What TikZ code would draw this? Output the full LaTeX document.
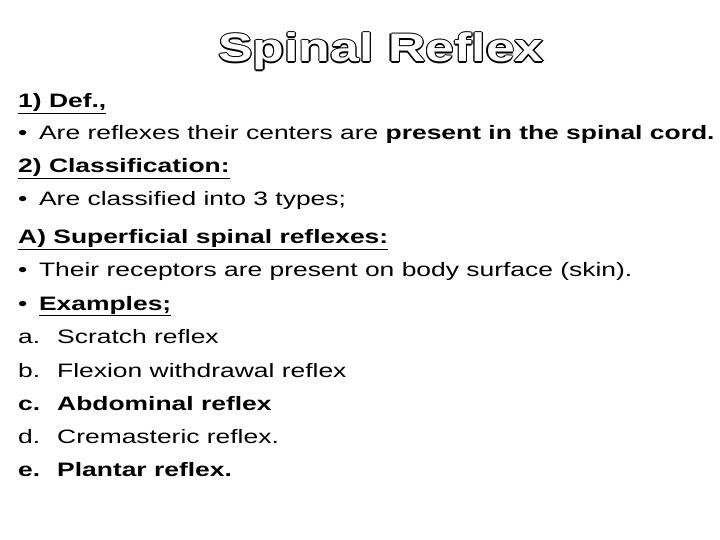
\documentclass[tikz,border=0pt]{standalone}
\usepackage{fontspec}
\setmainfont{Liberation Sans}
\newfontfamily\slidefont[FakeStretch=1.36]{Liberation Sans}
\newfontfamily\titlefont[FakeStretch=1.3]{Liberation Sans}
\tikzset{
  line-text/.style={anchor=base west,inner sep=0pt,font=\slidefont\fontsize{19.5}{22}\selectfont},
  title-text/.style={anchor=base,inner sep=0pt,font=\titlefont\fontsize{40}{44}\selectfont\bfseries}
}
\begin{document}
\begin{tikzpicture}[x=1bp,y=-1bp]
	\useasboundingbox (0,0) rectangle (720,540);
	% outlined title
	\foreach \dx/\dy in {1.2/0,-1.2/0,0/1.2,0/-1.2,.9/.9,-.9/.9,.9/-.9,-.9/-.9}
	  \node[title-text,text=black] (title-shadow) at (381+\dx,62+\dy) {Spinal Reflex};
	\node[title-text,text=white] (title) at (381,62) {Spinal Reflex};
	
	\node[line-text] (def) at (18,108) {\textbf{\underline{1) Def.,}}};
	\node[line-text] (def-b) at (18,140) {•\hspace{0.6em}Are reflexes their centers are \textbf{present in the spinal cord.}};
	\node[line-text] (cls) at (18,173) {\textbf{\underline{2) Classification:}}};
	\node[line-text] (cls-b) at (18,206) {•\hspace{0.6em}Are classified into 3 types;};
	\node[line-text] (sup) at (18,244) {\textbf{\underline{A) Superficial spinal reflexes:}}};
	\node[line-text] (sup-b) at (18,277) {•\hspace{0.6em}Their receptors are present on body surface (skin).};
	\node[line-text] (ex) at (18,310) {•\hspace{0.6em}\textbf{\underline{Examples;}}};
	
	\node[line-text] (ex-a) at (18,343) {a.};
	\node[line-text] (ex-at) at (57,343) {Scratch reflex};
	\node[line-text] (ex-b) at (18,377) {b.};
	\node[line-text] (ex-bt) at (57,377) {Flexion withdrawal reflex};
	\node[line-text] (ex-c) at (18,410) {\textbf{c.}};
	\node[line-text] (ex-ct) at (57,410) {\textbf{Abdominal reflex}};
	\node[line-text] (ex-d) at (18,443) {d.};
	\node[line-text] (ex-dt) at (57,443) {Cremasteric reflex.};
	\node[line-text] (ex-e) at (18,476) {\textbf{e.}};
	\node[line-text] (ex-et) at (57,476) {\textbf{Plantar reflex.}};
\end{tikzpicture}
\end{document}
